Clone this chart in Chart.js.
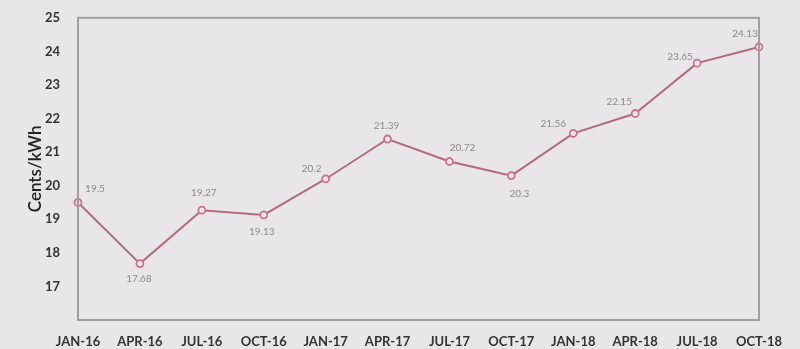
<!DOCTYPE html>
<html lang="en">
<head>
  <meta charset="UTF-8" />
  <title>Cents/kWh</title>
  <script src="https://cdn.jsdelivr.net/npm/chart.js"></script>
  <style>
    html, body { margin: 0; padding: 0; background: #e8e6e8; }
    #wrap { width: 800px; height: 349px; }
  </style>
</head>
<body>
  <div id="wrap"><canvas id="grafica"></canvas></div>
  <script>
    const categorias = ['JAN-16', 'APR-16', 'JUL-16', 'OCT-16', 'JAN-17', 'APR-17', 'JUL-17', 'OCT-17', 'JAN-18', 'APR-18', 'JUL-18', 'OCT-18'];
    const precios = [19.5, 17.68, 19.27, 19.13, 20.2, 21.39, 20.72, 20.3, 21.56, 22.15, 23.65, 24.13];
    const etiquetas = ['19.5', '17.68', '19.27', '19.13', '20.2', '21.39', '20.72', '20.3', '21.56', '22.15', '23.65', '24.13'];
    const ticksY = [17, 18, 19, 20, 21, 22, 23, 24, 25];

    // where each value label sits relative to its point (px)
    const offsetsEtiqueta = [
      [17, -14], [-1, 15], [2, -17], [-2, 17], [-14, -10], [-1, -13],
      [13, -14], [8, 18], [-20, -10], [-16, -12], [-17, -6], [-14, -13]
    ];

    // box around the plot area + value labels
    const extras = {
      id: 'extras',
      afterDatasetsDraw(chart) {
        const { ctx, chartArea: a } = chart;
        ctx.save();
        ctx.strokeStyle = '#a09ea0';
        ctx.lineWidth = 2;
        ctx.strokeRect(a.left, a.top, a.right - a.left, a.bottom - a.top);
        ctx.font = '10px Lato';
        ctx.fillStyle = '#8c8a8c';
        ctx.textAlign = 'center';
        ctx.textBaseline = 'middle';
        chart.getDatasetMeta(0).data.forEach((p, i) => {
          const [dx, dy] = offsetsEtiqueta[i];
          ctx.fillText(etiquetas[i], p.x + dx, p.y + dy);
        });
        ctx.restore();
      }
    };

    new Chart(document.getElementById('grafica'), {
      type: 'line',
      data: {
        labels: categorias,
        datasets: [{
          data: precios,
          borderColor: '#b56a7c',
          borderWidth: 2,
          pointRadius: 3.5,
          pointBorderWidth: 1.8,
          pointBorderColor: '#cf6f8a',
          pointBackgroundColor: '#ece8ec',
          tension: 0
        }]
      },
      options: {
        responsive: true,
        maintainAspectRatio: false,
        animation: false,
        layout: { padding: { top: 14, right: 41, left: 0, bottom: 0 } },
        plugins: { legend: { display: false }, tooltip: { enabled: false } },
        scales: {
          x: {
            offset: false,
            grid: { display: false },
            border: { display: false },
            ticks: { color: '#333', font: { family: 'Lato', size: 13, weight: 'bold' }, maxRotation: 0, autoSkip: false, padding: 6 },
            afterFit(s) { s.height = 29; }
          },
          y: {
            min: 16,
            max: 25,
            afterBuildTicks(s) { s.ticks = [16].concat(ticksY).map(v => ({ value: v })); },
            grid: { display: false },
            border: { display: false },
            ticks: {
              color: '#333',
              font: { family: 'Lato', size: 13, weight: 'bold' },
              padding: 10,
              callback: v => (ticksY.includes(v) ? v : '')
            },
            title: { display: true, text: 'Cents/kWh', color: '#222', font: { family: 'Lato', size: 17, weight: '600' }, padding: { top: 25, bottom: 0 } },
            afterFit(s) { s.width = 78; }
          }
        }
      },
      plugins: [extras]
    });
  </script>
</body>
</html>
